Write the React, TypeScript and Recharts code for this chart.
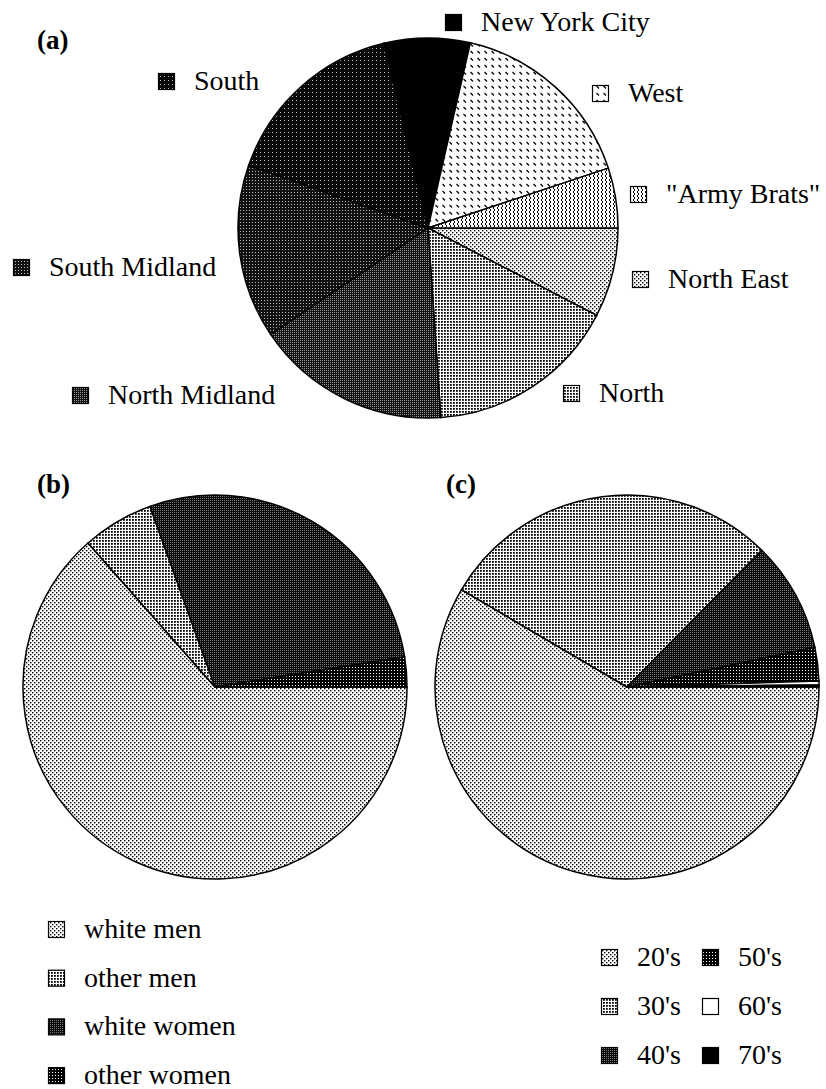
import React from "react";
import { PieChart, Pie, Cell } from "recharts";

// (a) regional background, clockwise from 3 o'clock
const regionNames = [
  "North East",
  "North",
  "North Midland",
  "South Midland",
  "South",
  "New York City",
  "West",
  "\"Army Brats\"",
];
const regionShares = [7.6, 16.3, 16.6, 14.8, 15.9, 7.3, 16.3, 5.1];

// (b) speaker group
const groupNames = ["white men", "other men", "white women", "other women"];
const groupShares = [63.5, 6.0, 28.0, 2.5];

// (c) age group
const ageNames = ["20's", "30's", "40's", "50's", "60's", "70's"];
const ageShares = [58.4, 28.9, 9.3, 2.8, 0.33, 0.17];

const regionFills = [
  "url(#pLight)",
  "url(#pLightGray)",
  "url(#pMid)",
  "url(#pDarkMid)",
  "url(#pDark)",
  "#000",
  "url(#pDash)",
  "url(#pZig)",
];
const groupFills = ["url(#pLight)", "url(#pLightGray)", "url(#pWomen)", "url(#pBlackDots)"];
const ageFills = [
  "url(#pLight)",
  "url(#pLightGray)",
  "url(#pWomen)",
  "url(#pBlackDots)",
  "#fff",
  "#000",
];

// label anchor (swatch top-left) for each region in (a)
const regionLabelAt = [
  [632, 271],
  [563, 385],
  [72, 387],
  [13, 259],
  [158, 73],
  [445, 14],
  [592, 85],
  [630, 186],
];

const FONT = "'Liberation Serif', 'Times New Roman', serif";
const SW = 16;

const toRows = (names: string[], shares: number[]) =>
  names.map((name, i) => ({ name, value: shares[i] }));

function Swatch({ x, y, fill, name }: { x: number; y: number; fill: string; name: string }) {
  return (
    <g>
      <rect x={x + 0.5} y={y + 0.5} width={SW} height={SW} fill={fill} stroke="#000" strokeWidth={1.2} />
      <text x={x + 36} y={y + 17} fontFamily={FONT} fontSize={28} fill="#000">
        {name}
      </text>
    </g>
  );
}

function Patterns() {
  return (
    <defs>
      <pattern id="pLight" width="4" height="4" patternUnits="userSpaceOnUse">
        <rect width="4" height="4" fill="#fff" />
        <rect x="0" y="0" width="1.4" height="1.4" fill="#000" />
        <rect x="2" y="2" width="1.4" height="1.4" fill="#000" />
      </pattern>
      <pattern id="pLightGray" width="3" height="3" patternUnits="userSpaceOnUse">
        <rect width="3" height="3" fill="#fff" />
        <rect x="0" y="0" width="1.8" height="1.8" fill="#000" />
      </pattern>
      <pattern id="pMid" width="2" height="2" patternUnits="userSpaceOnUse">
        <rect width="2" height="2" fill="#111" />
        <rect x="0" y="0" width="1" height="1" fill="#9a9a9a" />
      </pattern>
      <pattern id="pWomen" width="2" height="2" patternUnits="userSpaceOnUse">
        <rect width="2" height="2" fill="#0a0a0a" />
        <rect x="0" y="0" width="1" height="1" fill="#7a7a7a" />
      </pattern>
      <pattern id="pDarkMid" width="3" height="3" patternUnits="userSpaceOnUse">
        <rect width="3" height="3" fill="#111" />
        <rect x="0" y="0" width="1" height="1" fill="#bbb" />
      </pattern>
      <pattern id="pDark" width="4" height="4" patternUnits="userSpaceOnUse">
        <rect width="4" height="4" fill="#080808" />
        <rect x="0" y="0" width="1" height="1" fill="#c0c0c0" />
      </pattern>
      <pattern id="pBlackDots" width="3" height="3" patternUnits="userSpaceOnUse">
        <rect width="3" height="3" fill="#000" />
        <rect x="1" y="1" width="1" height="1" fill="#fff" />
      </pattern>
      <pattern id="pDash" width="7" height="7" patternUnits="userSpaceOnUse">
        <rect width="7" height="7" fill="#fff" />
        <line x1="1.5" y1="2" x2="4" y2="4.5" stroke="#000" strokeWidth="1.3" />
      </pattern>
      <pattern id="pZig" width="4" height="4" patternUnits="userSpaceOnUse">
        <rect width="4" height="4" fill="#fff" />
        <polyline points="1,0 3,2 1,4" fill="none" stroke="#000" strokeWidth="1" />
      </pattern>
    </defs>
  );
}

export default function App() {
  const regionRows = toRows(regionNames, regionShares);
  const groupRows = toRows(groupNames, groupShares);
  const ageRows = toRows(ageNames, ageShares);

  return (
    <div style={{ position: "absolute", left: 0, top: 0, width: 826, height: 1089, background: "#fff" }}>
      <PieChart width={826} height={1089} margin={{ top: 0, right: 0, bottom: 0, left: 0 }}>
        <Patterns />

        <Pie
          data={regionRows}
          dataKey="value"
          nameKey="name"
          cx={428}
          cy={228}
          outerRadius={190}
          startAngle={360}
          endAngle={0}
          stroke="#000"
          strokeWidth={1.5}
          isAnimationActive={false}
        >
          {regionRows.map((r, i) => (
            <Cell key={r.name} fill={regionFills[i]} />
          ))}
        </Pie>

        <Pie
          data={groupRows}
          dataKey="value"
          nameKey="name"
          cx={215}
          cy={687}
          outerRadius={192}
          startAngle={360}
          endAngle={0}
          stroke="#000"
          strokeWidth={1.5}
          isAnimationActive={false}
        >
          {groupRows.map((r, i) => (
            <Cell key={r.name} fill={groupFills[i]} />
          ))}
        </Pie>

        <Pie
          data={ageRows}
          dataKey="value"
          nameKey="name"
          cx={627}
          cy={687}
          outerRadius={192}
          startAngle={360}
          endAngle={0}
          stroke="#000"
          strokeWidth={1.5}
          isAnimationActive={false}
        >
          {ageRows.map((r, i) => (
            <Cell key={r.name} fill={ageFills[i]} />
          ))}
        </Pie>

        {/* panel letters */}
        <text x={37} y={49} fontFamily={FONT} fontSize={27} fontWeight="bold">(a)</text>
        <text x={37} y={493} fontFamily={FONT} fontSize={27} fontWeight="bold">(b)</text>
        <text x={446} y={493} fontFamily={FONT} fontSize={27} fontWeight="bold">(c)</text>

        {/* (a) labels around the pie */}
        {regionNames.map((n, i) => (
          <Swatch key={n} x={regionLabelAt[i][0]} y={regionLabelAt[i][1]} fill={regionFills[i]} name={n} />
        ))}

        {/* (b) legend */}
        {groupNames.map((n, i) => (
          <Swatch key={n} x={48} y={921 + i * 48.7} fill={groupFills[i]} name={n} />
        ))}

        {/* (c) legend, two columns */}
        {ageNames.map((n, i) => (
          <Swatch
            key={n}
            x={i < 3 ? 601 : 702}
            y={949 + (i % 3) * 49}
            fill={ageFills[i]}
            name={n}
          />
        ))}
      </PieChart>
    </div>
  );
}
